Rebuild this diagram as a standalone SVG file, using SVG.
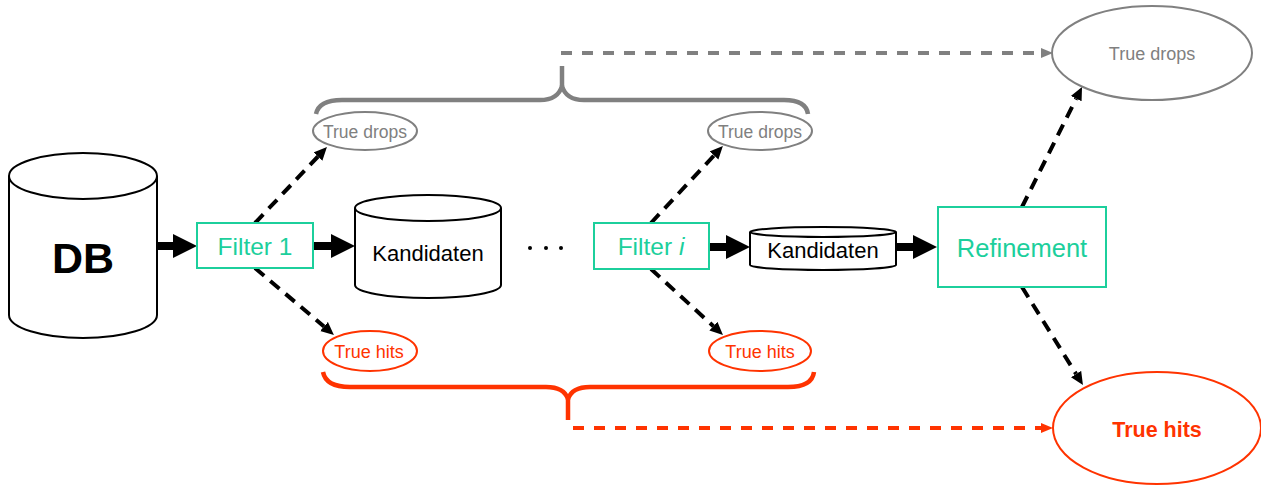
<svg xmlns="http://www.w3.org/2000/svg" width="1261" height="486" viewBox="0 0 1261 486">
  <style>
    .cyl { fill: #fff; stroke: #000; stroke-width: 2; }
    .box { fill: #fff; stroke: #1ccf9c; stroke-width: 2; }
    .boxtxt { fill: #1ccf9c; font-family: "Liberation Sans", Arial, sans-serif; text-anchor: middle; }
    .txt { fill: #000; font-family: "Liberation Sans", Arial, sans-serif; text-anchor: middle; }
    .drop { fill: #fff; stroke: #808080; stroke-width: 2; }
    .droptxt { fill: #808080; font-family: "Liberation Sans", Arial, sans-serif; text-anchor: middle; }
    .hit { fill: #fff; stroke: #ff3300; stroke-width: 2; }
    .hittxt { fill: #ff3300; font-family: "Liberation Sans", Arial, sans-serif; text-anchor: middle; }
    .flow { stroke: #000; stroke-width: 8; fill: none; }
    .dash { stroke: #000; stroke-width: 4; stroke-dasharray: 12 8; fill: none; }
    .gdash { stroke: #808080; stroke-width: 4; stroke-dasharray: 11 10; fill: none; }
    .rdash { stroke: #ff3300; stroke-width: 4; stroke-dasharray: 11 10; fill: none; }
    .gbrace { stroke: #808080; stroke-width: 4.5; fill: none; }
    .rbrace { stroke: #ff3300; stroke-width: 4.5; fill: none; }
  </style>
  <defs>
    <marker id="bigHead" markerUnits="userSpaceOnUse" markerWidth="24" markerHeight="24" refX="0" refY="12" orient="auto">
      <path d="M0,0 L24,12 L0,24 z" fill="#000"/>
    </marker>
    <marker id="head" markerUnits="userSpaceOnUse" markerWidth="13" markerHeight="13" refX="0" refY="6.5" orient="auto">
      <path d="M0,0.5 L13,6.5 L0,12.5 z" fill="#000"/>
    </marker>
    <marker id="grayHead" markerUnits="userSpaceOnUse" markerWidth="12" markerHeight="12" refX="0" refY="6" orient="auto">
      <path d="M0,1 L12,6 L0,11 z" fill="#808080"/>
    </marker>
    <marker id="redHead" markerUnits="userSpaceOnUse" markerWidth="12" markerHeight="12" refX="0" refY="6" orient="auto">
      <path d="M0,1 L12,6 L0,11 z" fill="#ff3300"/>
    </marker>
  </defs>

  <!-- connectors -->
  <g id="connectors">
    <!-- main flow -->
    <line class="flow" x1="157" y1="246" x2="173" y2="246" marker-end="url(#bigHead)"/>
    <line class="flow" x1="313" y1="246" x2="331" y2="246" marker-end="url(#bigHead)"/>
    <line class="flow" x1="709" y1="247" x2="726" y2="247" marker-end="url(#bigHead)"/>
    <line class="flow" x1="896" y1="247" x2="913" y2="247" marker-end="url(#bigHead)"/>

    <!-- filter outcomes -->
    <line class="dash" x1="255" y1="223" x2="318" y2="156.5" marker-end="url(#head)"/>
    <line class="dash" x1="255" y1="268" x2="324" y2="326.5" marker-end="url(#head)"/>
    <line class="dash" x1="651" y1="223" x2="714" y2="155.5" marker-end="url(#head)"/>
    <line class="dash" x1="651" y1="269" x2="713.4" y2="326.2" marker-end="url(#head)"/>
    <line class="dash" x1="1022" y1="207" x2="1076.2" y2="98.6" marker-end="url(#head)"/>
    <line class="dash" x1="1022" y1="287" x2="1076.1" y2="374" marker-end="url(#head)"/>

    <!-- collected drops -->
    <path class="gbrace" d="M316,114 Q319,100 342,100 L540,100 Q558,100 562,86 Q566,100 584,100 L784,100 Q806,100 808,114"/>
    <line class="gbrace" x1="562" y1="86" x2="562" y2="66"/>
    <line class="gdash" x1="561" y1="53" x2="1041" y2="53" marker-end="url(#grayHead)"/>

    <!-- collected hits -->
    <path class="rbrace" d="M323,372 Q326,387 350,387 L546,387 Q564,387 568,399 Q572,387 590,387 L788,387 Q812,387 814,372"/>
    <line class="rbrace" x1="568" y1="399" x2="568" y2="420"/>
    <line class="rdash" x1="573" y1="428" x2="1041" y2="428" marker-end="url(#redHead)"/>
  </g>

  <!-- database -->
  <g id="db">
    <path class="cyl" d="M9,176 L9,315 A74,23 0 0 0 157,315 L157,176"/>
    <ellipse class="cyl" cx="83" cy="176" rx="74" ry="23"/>
    <text class="txt" x="83" y="273" font-size="43" font-weight="bold">DB</text>
  </g>

  <g id="filter1">
    <rect class="box" x="197" y="223" width="116" height="45"/>
    <text class="boxtxt" x="255" y="255" font-size="24.5">Filter 1</text>
  </g>

  <g id="kandidaten1">
    <path class="cyl" d="M355,208 L355,285 A73,13 0 0 0 501,285 L501,208"/>
    <ellipse class="cyl" cx="428" cy="208" rx="73" ry="13"/>
    <text class="txt" x="428" y="261" font-size="22">Kandidaten</text>
  </g>

  <g id="ellipsis">
    <circle cx="530" cy="248" r="2" fill="#000"/>
    <circle cx="546" cy="248" r="2" fill="#000"/>
    <circle cx="561" cy="248" r="2" fill="#000"/>
  </g>

  <g id="filteri">
    <rect class="box" x="594" y="223" width="115" height="46"/>
    <text class="boxtxt" x="651" y="255" font-size="24.5">Filter <tspan font-style="italic">i</tspan></text>
  </g>

  <g id="kandidaten2">
    <path class="cyl" d="M750,232 L750,265 A73,5 0 0 0 896,265 L896,232"/>
    <ellipse class="cyl" cx="823" cy="232" rx="73" ry="5"/>
    <text class="txt" x="823" y="258" font-size="22">Kandidaten</text>
  </g>

  <g id="refinement">
    <rect class="box" x="938" y="207" width="168" height="80"/>
    <text class="boxtxt" x="1022" y="257" font-size="25.5">Refinement</text>
  </g>

  <g id="drops1">
    <ellipse class="drop" cx="365" cy="131" rx="52" ry="19"/>
    <text class="droptxt" x="365" y="138" font-size="17.5">True drops</text>
  </g>

  <g id="dropsi">
    <ellipse class="drop" cx="760" cy="131" rx="52" ry="19"/>
    <text class="droptxt" x="760" y="138" font-size="17.5">True drops</text>
  </g>

  <g id="hits1">
    <ellipse class="hit" cx="370" cy="351" rx="47" ry="20"/>
    <text class="hittxt" x="369" y="358" font-size="18">True hits</text>
  </g>

  <g id="hitsi">
    <ellipse class="hit" cx="760" cy="351" rx="51" ry="20"/>
    <text class="hittxt" x="760" y="358" font-size="18">True hits</text>
  </g>

  <g id="dropsAll">
    <ellipse class="drop" cx="1152" cy="53" rx="100" ry="47"/>
    <text class="droptxt" x="1152" y="60" font-size="18">True drops</text>
  </g>

  <g id="hitsAll">
    <ellipse class="hit" cx="1157" cy="428" rx="104" ry="56" stroke-width="3"/>
    <text class="hittxt" x="1157" y="437" font-size="21.5" font-weight="bold">True hits</text>
  </g>
</svg>
